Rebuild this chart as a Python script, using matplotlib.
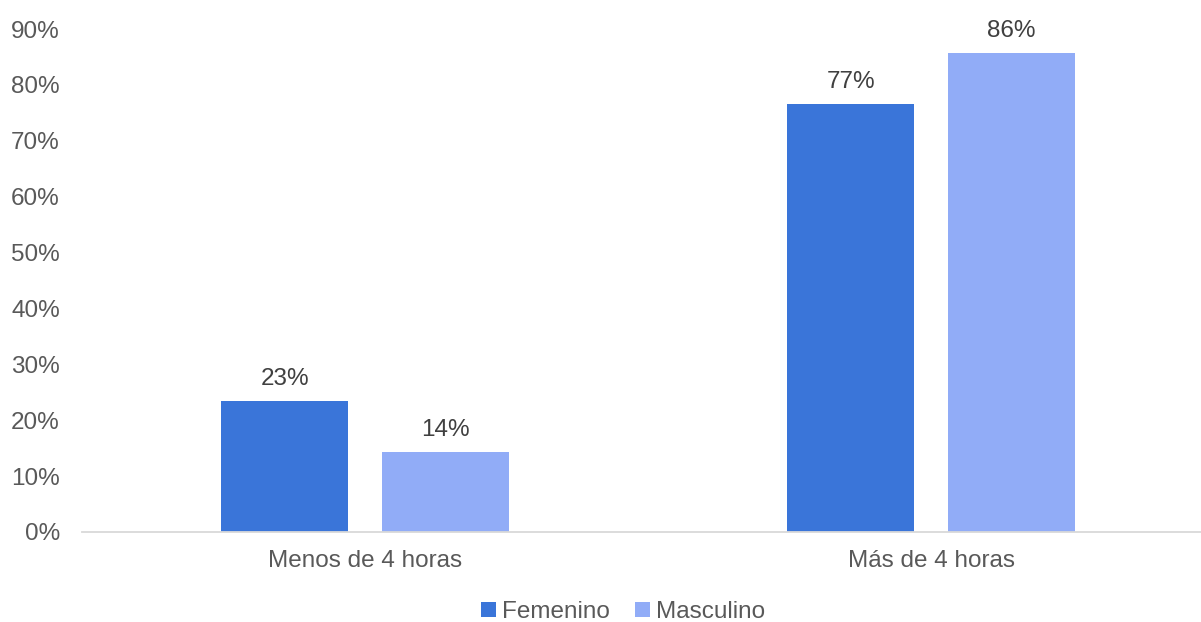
import numpy as np
import matplotlib.pyplot as plt
from matplotlib.ticker import FuncFormatter

# data
categories = ["Menos de 4 horas", "Más de 4 horas"]
series_names = ["Femenino", "Masculino"]
femenino = [23.4, 76.6]
masculino = [14.3, 85.7]
labels_fem = ["23%", "77%"]
labels_masc = ["14%", "86%"]

colors = ["#3a75d9", "#91acf7"]
tick_color = "#595959"
label_color = "#404040"

plt.rcParams['font.family'] = ['Liberation Sans', 'DejaVu Sans']
fs = 17.5

fig = plt.figure(figsize=(12.01, 6.22), dpi=100)
# axes slightly wider than the figure, as the original chart is cropped at the right
ax = fig.add_axes([82 / 1201, 90 / 622, 1132 / 1201, 503 / 622])

x = np.arange(len(categories))
width = 0.224
offset = 0.142

b1 = ax.bar(x - offset, femenino, width, color=colors[0], label=series_names[0])
b2 = ax.bar(x + offset, masculino, width, color=colors[1], label=series_names[1])

for bars, labs in ((b1, labels_fem), (b2, labels_masc)):
    for rect, lab in zip(bars, labs):
        ax.annotate(lab, (rect.get_x() + rect.get_width() / 2, rect.get_height()),
                    xytext=(0, 8), textcoords='offset points',
                    ha='center', va='bottom', fontsize=fs, color=label_color)

ax.set_xlim(-0.5, 1.5)
ax.set_ylim(0, 90)
ax.set_yticks(np.arange(0, 91, 10))
ax.yaxis.set_major_formatter(FuncFormatter(lambda v, p: f"{v:.0f}%"))
ax.set_xticks(x)
ax.set_xticklabels(categories)

ax.tick_params(axis='both', length=0, labelsize=fs, colors=tick_color)
ax.tick_params(axis='y', pad=16)
ax.tick_params(axis='x', pad=13)
for side in ('top', 'right', 'left'):
    ax.spines[side].set_visible(False)
ax.spines['bottom'].set_color('#d9d9d9')
ax.spines['bottom'].set_linewidth(1.3)

leg = fig.legend(loc='center', bbox_to_anchor=(623 / 1201, 1 - 612 / 622), ncol=2,
                 frameon=False, fontsize=fs, handlelength=0.6, handleheight=0.6,
                 handletextpad=0.25, columnspacing=1.05)
for t in leg.get_texts():
    t.set_color(tick_color)

fig.savefig('out.png', dpi=100)
